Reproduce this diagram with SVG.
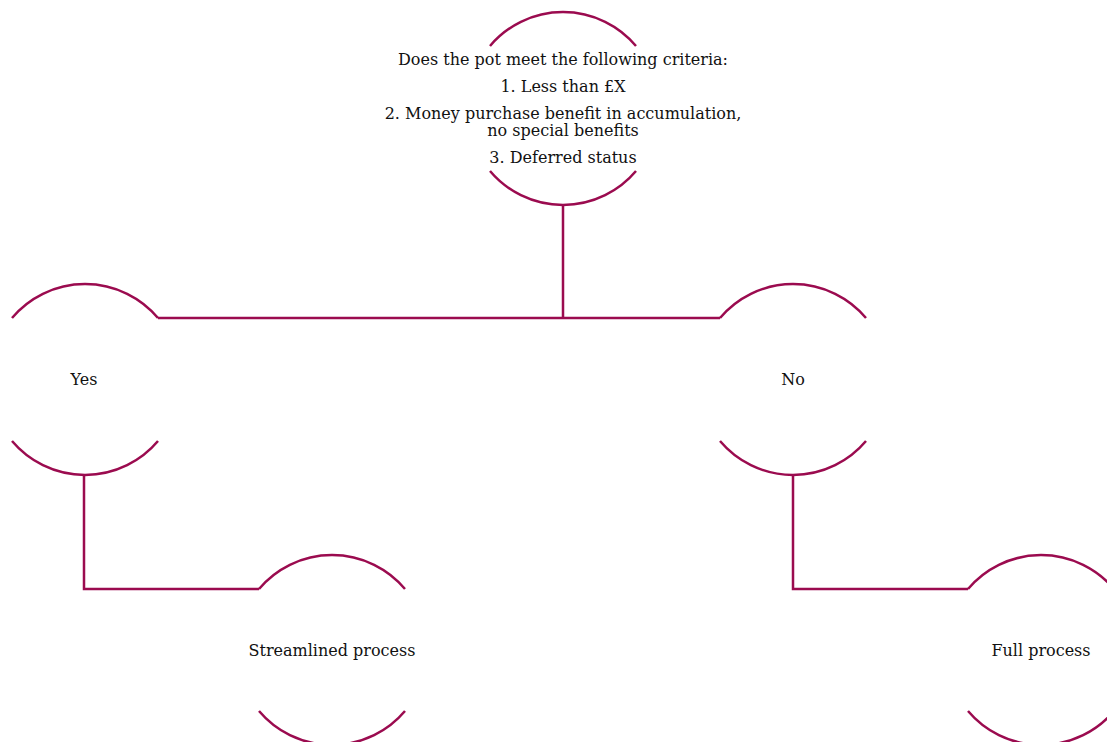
<svg xmlns="http://www.w3.org/2000/svg" width="1107" height="742" viewBox="0 0 1107 742">
<style>
.arc{fill:none;stroke:#9b0b4f;stroke-width:2.5}
.con{fill:none;stroke:#9b0b4f;stroke-width:2.5}
text{font-family:"DejaVu Serif","Liberation Serif",serif;font-size:16px;fill:#111111;text-anchor:middle}
</style>
<rect width="1107" height="742" fill="#ffffff"/>
<g id="connectors">
<path class="con" d="M563,204 V318 M158,318 H720"/>
<path class="con" d="M84,474 V589 H259"/>
<path class="con" d="M793,474 V589 H968"/>
</g>
<g id="node-criteria">
<path class="arc" d="M490,46 A95.5,95.5 0 0 1 636,46"/>
<path class="arc" d="M490,171 A95.5,95.5 0 0 0 636,171"/>
<text x="563" y="65">Does the pot meet the following criteria:</text>
<text x="563" y="92">1. Less than £X</text>
<text x="563" y="119">2. Money purchase benefit in accumulation,</text>
<text x="563" y="136">no special benefits</text>
<text x="563" y="163">3. Deferred status</text>
</g>
<g id="node-yes">
<path class="arc" d="M12,318 A95.5,95.5 0 0 1 158,318"/>
<path class="arc" d="M12,441 A95.5,95.5 0 0 0 158,441"/>
<text x="84" y="385">Yes</text>
</g>
<g id="node-no">
<path class="arc" d="M720,318 A95.5,95.5 0 0 1 866,318"/>
<path class="arc" d="M720,441 A95.5,95.5 0 0 0 866,441"/>
<text x="793" y="385">No</text>
</g>
<g id="node-streamlined">
<path class="arc" d="M259,589 A95.5,95.5 0 0 1 405,589"/>
<path class="arc" d="M259,711 A95.5,95.5 0 0 0 405,711"/>
<text x="332" y="656">Streamlined process</text>
</g>
<g id="node-full">
<path class="arc" d="M968,589 A95.5,95.5 0 0 1 1114,589"/>
<path class="arc" d="M968,711 A95.5,95.5 0 0 0 1114,711"/>
<text x="1041" y="656">Full process</text>
</g>
</svg>
